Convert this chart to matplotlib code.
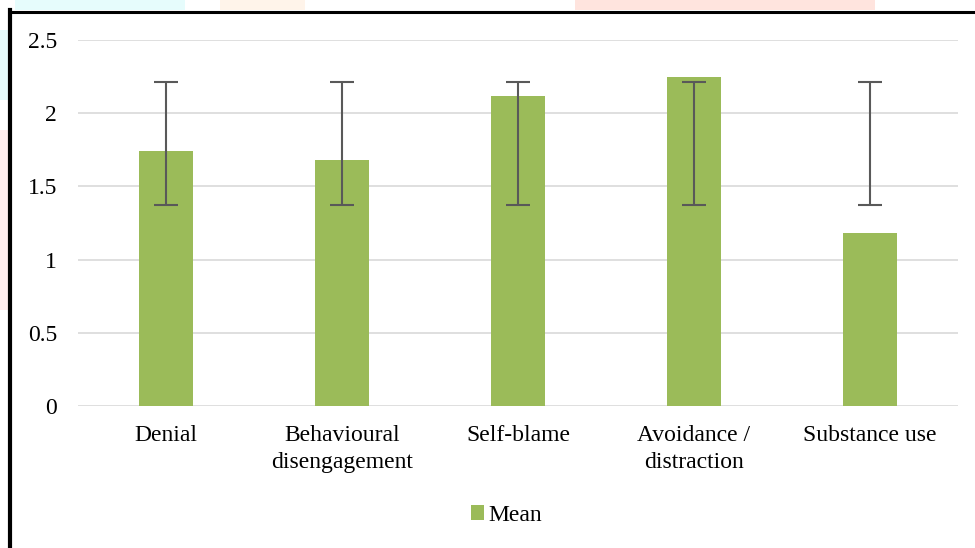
import numpy as np
import matplotlib.pyplot as plt
from matplotlib.lines import Line2D
from matplotlib.patches import Rectangle

# Coping strategies, mean score with custom error bar range
categories = ["Denial", "Behavioural\ndisengagement", "Self-blame",
              "Avoidance /\ndistraction", "Substance use"]
means = [1.74, 1.68, 2.12, 2.25, 1.18]
err_low = [1.37, 1.37, 1.37, 1.37, 1.37]
err_high = [2.21, 2.21, 2.21, 2.21, 2.21]
yticks = [0, 0.5, 1, 1.5, 2, 2.5]
ytick_labels = ["0", "0.5", "1", "1.5", "2", "2.5"]

plt.rcParams["font.family"] = ["Liberation Serif", "DejaVu Serif"]

fig = plt.figure(figsize=(9.75, 5.48), dpi=100)
ax = fig.add_axes([78 / 975, 1 - 406 / 548, 880 / 975, 366 / 548])

# faint watermark pieces outside the frame
for x0, y0, w, h, c in [(15, 0, 170, 10, "#e6fcfc"), (220, 0, 85, 10, "#fff4ea"),
                        (575, 0, 300, 10, "#ffe4de"), (0, 30, 8, 70, "#e6fcfc"),
                        (0, 130, 8, 180, "#ffeded")]:
    fig.add_artist(Rectangle((x0 / 975, 1 - (y0 + h) / 548), w / 975, h / 548,
                             transform=fig.transFigure, color=c, lw=0, zorder=0))

x = np.arange(len(categories))
ax.bar(x, means, width=0.31, color="#9bbb59", zorder=2, label="Mean")

# error bars span a fixed range, independent of the bar height
lo = np.array(err_low)
hi = np.array(err_high)
ax.errorbar(x, (lo + hi) / 2, yerr=(hi - lo) / 2, fmt="none", ecolor="#595959",
            elinewidth=1.5, capsize=8.5, capthick=1.5, zorder=3)

ax.set_xlim(-0.5, len(categories) - 0.5)
ax.set_ylim(0, 2.5)
ax.set_yticks(yticks)
ax.set_yticklabels(ytick_labels)
ax.set_xticks(x)
ax.set_xticklabels(categories, linespacing=1.33)
ax.tick_params(axis="both", length=0, labelsize=17, colors="black")
ax.tick_params(axis="y", pad=15)
ax.tick_params(axis="x", pad=14)
ax.grid(axis="y", color="#d9d9d9", linewidth=1.2, zorder=0)
for s in ax.spines.values():
    s.set_visible(False)
ax.set_facecolor("none")

leg = ax.legend(loc="upper center", bbox_to_anchor=(0.487, -0.212), frameon=False,
                fontsize=17, handlelength=0.55, handleheight=0.55, handletextpad=0.2)

# black frame (left and top edges)
fig.add_artist(Line2D([10 / 975, 10 / 975], [0, 1 - 10 / 548], color="black",
                      lw=3, transform=fig.transFigure, solid_capstyle="projecting"))
fig.add_artist(Line2D([10 / 975, 1], [1 - 12 / 548, 1 - 12 / 548], color="black",
                      lw=2.2, transform=fig.transFigure))

fig.savefig("out.png", dpi=100, facecolor="white")
